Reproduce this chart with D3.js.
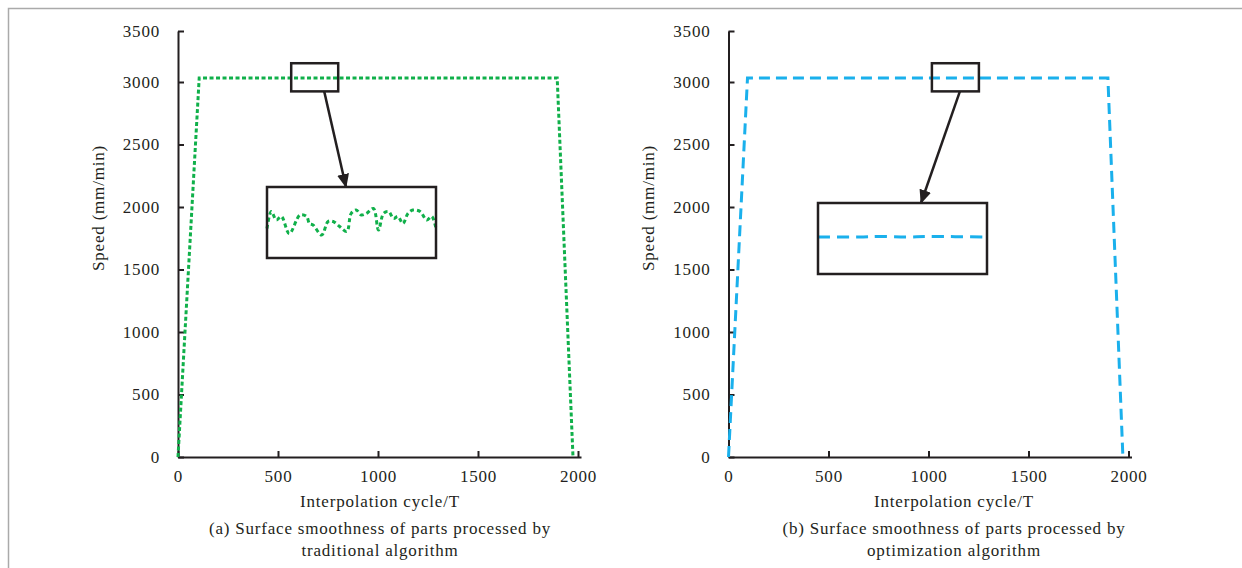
<!DOCTYPE html>
<html lang="en">
<head>
<meta charset="utf-8">
<title>Speed vs interpolation cycle</title>
<script src="https://d3js.org/d3.v7.min.js"></script>
<style>
body{
  margin: 0;
  background: #fff;
}
.axis text{
  font: 17px "Liberation Serif", "Times New Roman", serif;
  letter-spacing: 0.8px;
  fill: #231f20;
}
.axis path, .axis line{
  fill: none;
  stroke: #231f20;
  stroke-width: 2;
}
.label{
  font: 17px "Liberation Serif", "Times New Roman", serif;
  letter-spacing: 0.8px;
  fill: #231f20;
  text-anchor: middle;
}
</style>
</head>
<body>
<svg id="chart" width="1242" height="568"></svg>
<script>
// main speed profiles
var cycleA = [0, 106, 1896, 1975];
var speedA = [0, 3040, 3040, 0];
var cycleB = [0, 95, 1897, 1972];
var speedB = [0, 3040, 3040, 0];

// zoomed window, traditional algorithm (fluctuating)
var zoomCycleA = [566, 572, 579, 586, 597, 612, 621, 625, 630, 642, 651, 658, 667, 677, 683,
                  690, 697, 704, 714, 721, 728, 735, 742, 748, 755, 762, 769, 779, 788, 795, 801];
var zoomSpeedA = [3028, 3062, 3045, 3052, 3018, 3055, 3052, 3038, 3035, 3015, 3042, 3042, 3032, 3022, 3058,
                  3065, 3055, 3058, 3068, 3025, 3058, 3062, 3048, 3052, 3038, 3058, 3065, 3062, 3045, 3052, 3028];
// zoomed window, optimization algorithm (flat)
var zoomCycleB = [1017, 1080, 1100, 1140, 1170, 1252];
var zoomSpeedB = [3043, 3043, 3044, 3043, 3044, 3043];

var xTicks = [0, 500, 1000, 1500, 2000];
var yTicks = [0, 500, 1000, 1500, 2000, 2500, 3000, 3500];

var svg = d3.select('#chart');

svg.append('rect')
  .attr('x', 8.5).attr('y', 8.5)
  .attr('width', 1250).attr('height', 580)
  .attr('fill', 'none')
  .attr('stroke', '#aaa')
  .attr('stroke-width', 1.5);

svg.append('defs').append('marker')
  .attr('id', 'arrow')
  .attr('markerUnits', 'userSpaceOnUse')
  .attr('viewBox', '0 0 14 12')
  .attr('refX', 13).attr('refY', 6)
  .attr('markerWidth', 14).attr('markerHeight', 12)
  .attr('orient', 'auto')
  .append('path')
  .attr('d', 'M0,0 L14,6 L0,12 Z')
  .attr('fill', '#231f20');

function panel(p) {
  var x = d3.scaleLinear().domain([0, 2015]).range([p.x0, p.x0 + 403]);
  var y = d3.scaleLinear().domain([0, 3000, 3500]).range([457, 82, 31]);

  svg.append('g')
    .attr('class', 'axis')
    .attr('transform', 'translate(0,457)')
    .call(d3.axisBottom(x).tickValues(xTicks).tickFormat(d3.format('d'))
      .tickSizeInner(-6).tickSizeOuter(0).tickPadding(13));

  svg.append('g')
    .attr('class', 'axis')
    .attr('transform', 'translate(' + p.x0 + ',0)')
    .call(d3.axisLeft(y).tickValues(yTicks).tickFormat(d3.format('d'))
      .tickSizeInner(-6).tickSizeOuter(0).tickPadding(18));

  var line = d3.line()
    .x(function(d) { return x(d[0]); })
    .y(function(d) { return y(d[1]); });

  svg.append('path')
    .datum(d3.zip(p.cycles, p.speeds))
    .attr('d', line)
    .attr('fill', 'none')
    .attr('stroke', p.color)
    .attr('stroke-width', 3)
    .attr('stroke-dasharray', p.dash);

  // small box on the curve
  var sx0 = x(p.win[0]), sx1 = x(p.win[1]);
  var sy0 = y(3184), sy1 = y(2925);
  svg.append('rect')
    .attr('x', sx0).attr('y', sy0)
    .attr('width', sx1 - sx0).attr('height', sy1 - sy0)
    .attr('fill', 'none').attr('stroke', '#231f20').attr('stroke-width', 2.5);

  // inset box
  var ix = d3.scaleLinear().domain(p.win).range([p.box[0], p.box[0] + 169]);
  var iy = d3.scaleLinear().domain([2969, 3111]).range([p.box[1] + 71, p.box[1]]);

  svg.append('line')
    .attr('x1', x(p.arrowFrom)).attr('y1', sy1)
    .attr('x2', p.arrowTo).attr('y2', p.box[1])
    .attr('stroke', '#231f20').attr('stroke-width', 2.5)
    .attr('marker-end', 'url(#arrow)');

  var inset = d3.line()
    .curve(d3.curveCatmullRom)
    .x(function(d) { return ix(d[0]); })
    .y(function(d) { return iy(d[1]); });

  svg.append('path')
    .datum(d3.zip(p.zoomCycles, p.zoomSpeeds))
    .attr('d', inset)
    .attr('fill', 'none')
    .attr('stroke', p.color)
    .attr('stroke-width', 3)
    .attr('stroke-dasharray', p.zoomDash);

  svg.append('rect')
    .attr('x', p.box[0]).attr('y', p.box[1])
    .attr('width', 169).attr('height', 71)
    .attr('fill', 'none').attr('stroke', '#231f20').attr('stroke-width', 2.5);

  svg.append('text')
    .attr('class', 'label')
    .attr('transform', 'translate(' + (p.x0 - 80) + ',208) rotate(-90)')
    .attr('dy', '0.35em')
    .text('Speed (mm/min)');

  svg.append('text')
    .attr('class', 'label')
    .attr('x', p.cx).attr('y', 507)
    .text('Interpolation cycle/T');

  svg.append('text')
    .attr('class', 'label')
    .attr('x', p.cx).attr('y', 534)
    .text(p.caption[0]);
  svg.append('text')
    .attr('class', 'label')
    .attr('x', p.cx).attr('y', 556)
    .text(p.caption[1]);
}

panel({
  x0: 178, cx: 380,
  cycles: cycleA, speeds: speedA,
  zoomCycles: zoomCycleA, zoomSpeeds: zoomSpeedA,
  win: [566, 801], box: [267, 187], arrowFrom: 731, arrowTo: 346,
  color: '#10b04a', dash: '4,2.5', zoomDash: '4,3',
  caption: ['(a) Surface smoothness of parts processed by', 'traditional algorithm']
});

panel({
  x0: 728.5, cx: 954,
  cycles: cycleB, speeds: speedB,
  zoomCycles: zoomCycleB, zoomSpeeds: zoomSpeedB,
  win: [1017, 1252], box: [818, 203], arrowFrom: 1157, arrowTo: 921,
  color: '#1ab0ec', dash: '11,6', zoomDash: '12,7',
  caption: ['(b) Surface smoothness of parts processed by', 'optimization algorithm']
});
</script>
</body>
</html>
